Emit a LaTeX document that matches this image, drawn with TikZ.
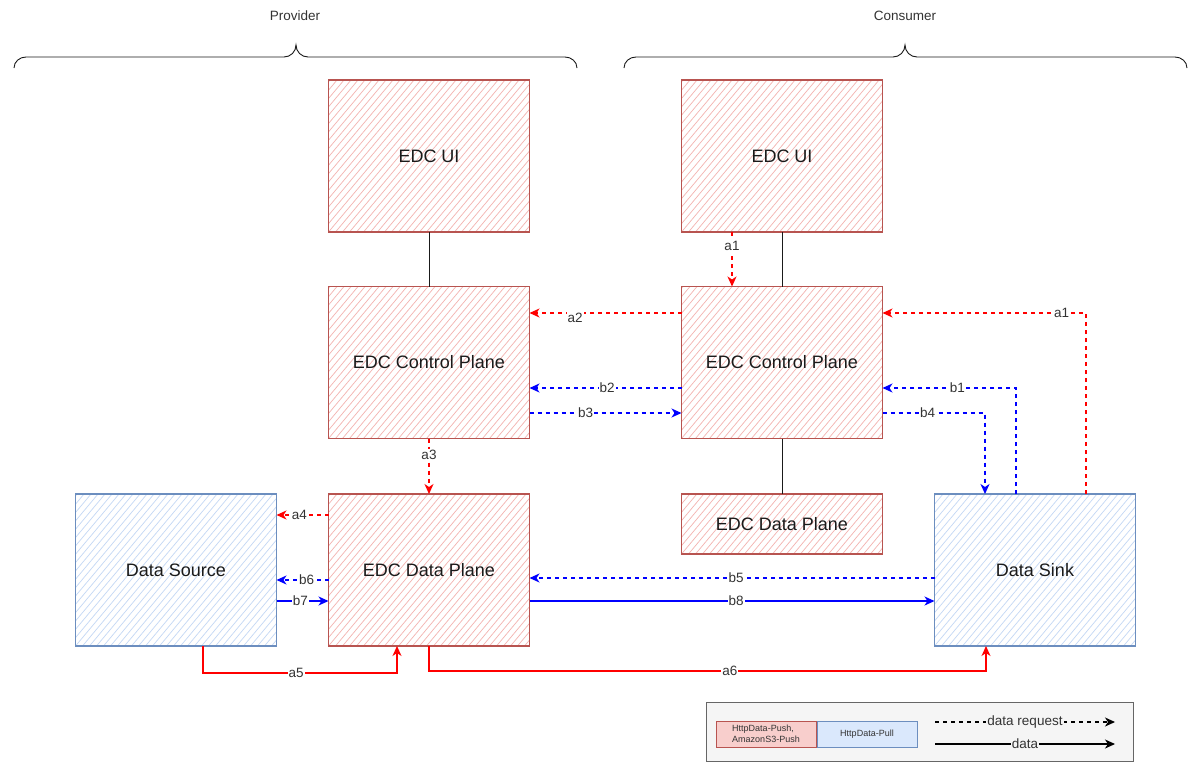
\documentclass[tikz,border=0pt]{standalone}
\usepackage{fontspec}
\setmainfont{Liberation Sans}
\usetikzlibrary{arrows.meta,calc,positioning}
\definecolor{Ink}{HTML}{1A1A1A}
\definecolor{LabelInk}{HTML}{333333}
\definecolor{PushRed}{HTML}{FF0000}
\definecolor{PullBlue}{HTML}{0000FF}
\definecolor{EdcBorder}{HTML}{B85450}
\definecolor{EdcFill}{HTML}{F8CECC}
\definecolor{EdcHatch}{HTML}{F3B3B0}
\definecolor{StoreBorder}{HTML}{6C8EBF}
\definecolor{StoreFill}{HTML}{DAE8FC}
\definecolor{StoreHatch}{HTML}{C4D8F5}
\definecolor{LegendFill}{HTML}{F5F5F5}
\definecolor{LegendBorder}{HTML}{666666}
\tikzset{
  hatched/.style={path picture={
    \foreach \k in {-24,...,30}
      \draw[#1,line width=0.7pt] ($(path picture bounding box.south west)+(\k*7pt,0pt)$) -- ++(50:260pt);}},
  edcbox/.style={draw=EdcBorder,line width=1.2pt,fill=white,hatched=EdcHatch,minimum width=201pt,minimum height=152pt,inner sep=0pt,outer sep=0pt,font=\fontsize{18}{21}\selectfont,text=Ink},
  storebox/.style={draw=StoreBorder,line width=1.2pt,fill=white,hatched=StoreHatch,minimum width=201pt,minimum height=152pt,inner sep=0pt,outer sep=0pt,font=\fontsize{18}{21}\selectfont,text=Ink},
  sidetitle/.style={font=\fontsize{13.5}{16}\selectfont,text=LabelInk},
  sidebrace/.style={line width=0.9pt,draw=Ink},
  link/.style={line width=1pt,draw=Ink},
  request/.style={line width=1.2pt,dash pattern=on 4pt off 4pt,-{Stealth[length=10pt,width=9pt,inset=3pt]}},
  transfer/.style={line width=1.2pt,-{Stealth[length=10pt,width=9pt,inset=3pt]}},
  pushflow/.style={draw=PushRed},
  pullflow/.style={draw=PullBlue},
  flowlabel/.style={fill=white,inner sep=1pt,font=\fontsize{13.5}{16}\selectfont,text=LabelInk},
  legendpanel/.style={draw=LegendBorder,fill=LegendFill,line width=1pt,minimum width=427pt,minimum height=59pt,inner sep=0pt},
  legendkey/.style={line width=1pt,minimum width=100pt,minimum height=26pt,inner sep=0pt,font=\fontsize{9}{10.5}\selectfont,text=LabelInk}
}
\begin{document}
\begin{tikzpicture}[x=1pt,y=-1pt]
  \useasboundingbox (0,0) rectangle (1200,774);

  \node[sidetitle] (provtitle) at (295,16) {Provider};
  \node[sidetitle] (constitle) at (905,16) {Consumer};
  \draw[sidebrace] (14,68) to[out=90,in=180] (26,57) -- (284,57) to[out=0,in=-90] (296,45) to[out=-90,in=180] (308,57) -- (565,57) to[out=0,in=90] (577,68);
  \draw[sidebrace] (624,68) to[out=90,in=180] (636,57) -- (893,57) to[out=0,in=-90] (905,45) to[out=-90,in=180] (917,57) -- (1175,57) to[out=0,in=90] (1187,68);

  \node[edcbox] (pui) at (429,156) {EDC UI};
  \node[edcbox] (pcp) at (429,362.5) {EDC Control Plane};
  \node[edcbox] (pdp) at (429,570) {EDC Data Plane};
  \node[edcbox] (cui) at (782,156) {EDC UI};
  \node[edcbox] (ccp) at (782,362.5) {EDC Control Plane};
  \node[edcbox,minimum height=60pt] (cdp) at (782,524) {EDC Data Plane};
  \node[storebox] (src) at (176,570) {Data Source};
  \node[storebox] (snk) at (1035,570) {Data Sink};

  \draw[link] (pui) -- (pcp);
  \draw[link] (cui) -- (ccp);
  \draw[link] (ccp) -- (cdp);

  % requests, red
  \draw[request,pushflow] ($(cui.south)+(-50,0)$) -- node[flowlabel,pos=0.26] {a1} ($(ccp.north)+(-50,0)$);
  \draw[request,pushflow] ($(ccp.west)+(0,-49.5)$) -- node[flowlabel,pos=0.7,yshift=-5pt] {a2} ($(pcp.east)+(0,-49.5)$);
  \draw[request,pushflow] (pcp) -- node[flowlabel,pos=0.3] {a3} (pdp);
  \draw[request,pushflow] ($(pdp.west)+(0,-55)$) -- node[flowlabel,pos=0.56] {a4} ($(src.east)+(0,-55)$);
  \draw[request,pushflow] ($(snk.north)+(51,0)$) |- node[flowlabel,pos=0.56] {a1} ($(ccp.east)+(0,-49.5)$);
  \draw[transfer,pushflow] ($(src.south)+(27,0)$) -- ++(0,27) -| node[flowlabel,pos=0.24] {a5} ($(pdp.south)+(-32,0)$);
  \draw[transfer,pushflow] (pdp.south) -- ++(0,25) -| node[flowlabel,pos=0.27] {a6} ($(snk.south)+(-49,0)$);

  % requests, blue
  \draw[request,pullflow] ($(snk.north)+(-19,0)$) |- node[flowlabel,pos=0.72] {b1} ($(ccp.east)+(0,25.5)$);
  \draw[request,pullflow] ($(ccp.west)+(0,25.5)$) -- node[flowlabel,pos=0.49] {b2} ($(pcp.east)+(0,25.5)$);
  \draw[request,pullflow] ($(pcp.east)+(0,50.5)$) -- node[flowlabel,pos=0.37] {b3} ($(ccp.west)+(0,50.5)$);
  \draw[request,pullflow] ($(ccp.east)+(0,50.5)$) -| node[flowlabel,pos=0.22] {b4} ($(snk.north)+(-50,0)$);
  \draw[request,pullflow] ($(snk.west)+(0,8)$) -- node[flowlabel,pos=0.49] {b5} ($(pdp.east)+(0,8)$);
  \draw[request,pullflow] ($(pdp.west)+(0,10)$) -- node[flowlabel,pos=0.42] {b6} ($(src.east)+(0,10)$);
  \draw[transfer,pullflow] ($(src.east)+(0,31)$) -- node[flowlabel,pos=0.46] {b7} ($(pdp.west)+(0,31)$);
  \draw[transfer,pullflow] ($(pdp.east)+(0,31)$) -- node[flowlabel,pos=0.51] {b8} ($(snk.west)+(0,31)$);

  % legend
  \node[legendpanel] (legend) at (919.5,731.5) {};
  \node[legendkey,draw=EdcBorder,fill=EdcFill,align=left] (pushkey) at (766,734) {HttpData-Push,\\AmazonS3-Push};
  \node[legendkey,draw=StoreBorder,fill=StoreFill,right=0pt of pushkey] (pullkey) {HttpData-Pull};
  \coordinate (reqfrom) at (935,722);
  \coordinate (reqto) at (1115,722);
  \coordinate (datfrom) at (935,744);
  \coordinate (datto) at (1115,744);
  \draw[request,draw=black] (reqfrom) -- node[flowlabel,fill=LegendFill] {data request} (reqto);
  \draw[transfer,draw=black] (datfrom) -- node[flowlabel,fill=LegendFill] {data} (datto);
\end{tikzpicture}
\end{document}
